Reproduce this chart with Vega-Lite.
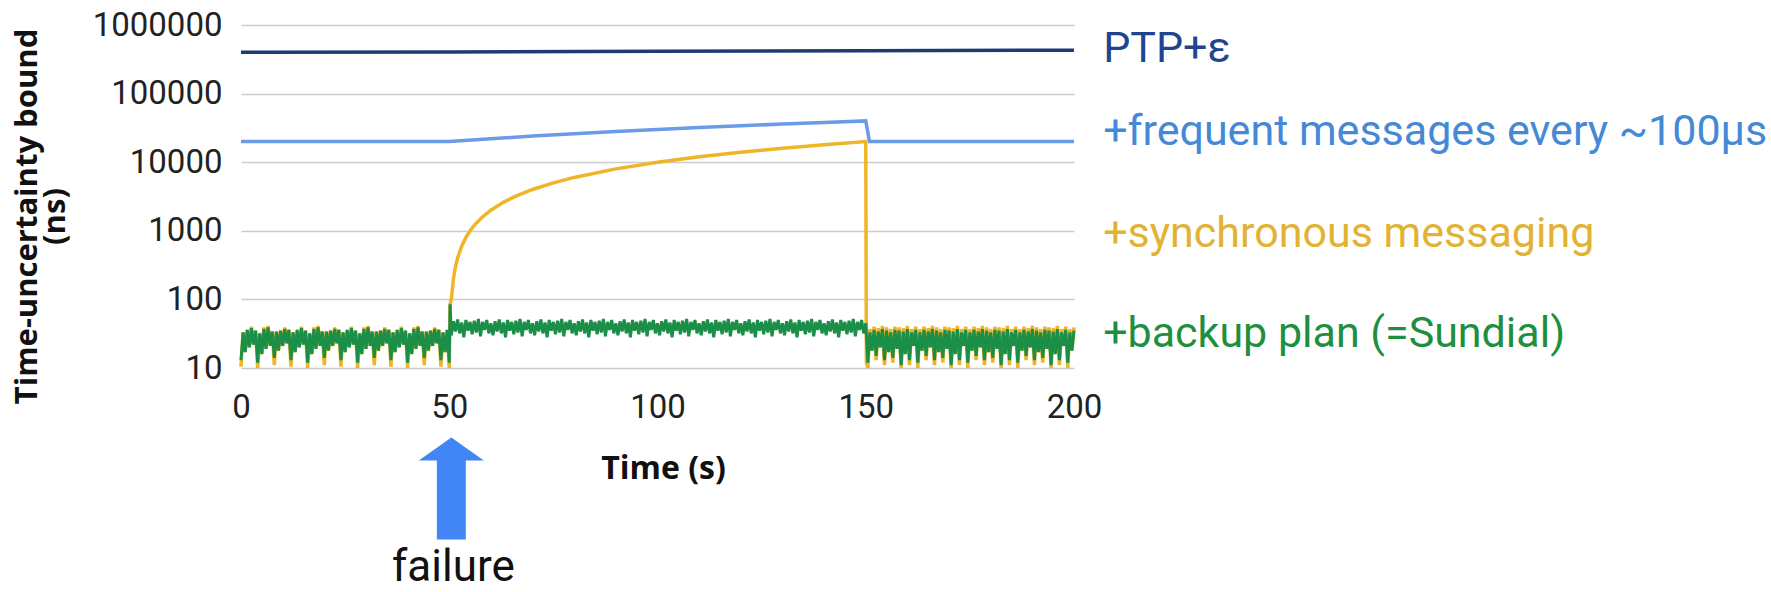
{
"$schema": "https://vega.github.io/schema/vega-lite/v6.json",
"width": 833, "height": 343,
"autosize": {"type": "none"},
"padding": {"left": 241, "top": 25, "right": 697, "bottom": 224},
"background": "white",
"config": {"view": {"stroke": null}},
"datasets": {
"ptp": [{"t":0,"v":400000},{"t":50,"v":405000},{"t":100,"v":415000},{"t":150,"v":422000},{"t":200,"v":430000}],
"freq": [{"t":0,"v":20000},{"t":50,"v":20000},{"t":60,"v":22000},{"t":70,"v":24000},{"t":80,"v":26000},{"t":90,"v":28000},{"t":100,"v":30000},{"t":110,"v":32000},{"t":120,"v":34000},{"t":130,"v":36000},{"t":140,"v":38000},{"t":150,"v":40000},{"t":150.9,"v":20000},{"t":200,"v":20000}],
"sync": [
{"t":0,"v":10.5},{"t":0.5,"v":33},{"t":1,"v":17},{"t":1.5,"v":36},{"t":2,"v":20},{"t":2.5,"v":40},{"t":3,"v":22},{"t":3.5,"v":35},
{"t":4,"v":10},{"t":4.5,"v":32},{"t":5,"v":16},{"t":5.5,"v":39},{"t":6,"v":19},{"t":6.5,"v":41},{"t":7,"v":21},{"t":7.5,"v":34},
{"t":8,"v":11},{"t":8.5,"v":34},{"t":9,"v":18},{"t":9.5,"v":35},{"t":10,"v":21},{"t":10.5,"v":39},{"t":11,"v":23},{"t":11.5,"v":36},
{"t":12,"v":10.5},{"t":12.5,"v":33},{"t":13,"v":17},{"t":13.5,"v":36},{"t":14,"v":20},{"t":14.5,"v":40},{"t":15,"v":22},{"t":15.5,"v":35},
{"t":16,"v":10},{"t":16.5,"v":32},{"t":17,"v":16},{"t":17.5,"v":39},{"t":18,"v":19},{"t":18.5,"v":41},{"t":19,"v":21},{"t":19.5,"v":34},
{"t":20,"v":11},{"t":20.5,"v":34},{"t":21,"v":18},{"t":21.5,"v":35},{"t":22,"v":21},{"t":22.5,"v":39},{"t":23,"v":23},{"t":23.5,"v":36},
{"t":24,"v":10.5},{"t":24.5,"v":33},{"t":25,"v":17},{"t":25.5,"v":36},{"t":26,"v":20},{"t":26.5,"v":40},{"t":27,"v":22},{"t":27.5,"v":35},
{"t":28,"v":10},{"t":28.5,"v":32},{"t":29,"v":16},{"t":29.5,"v":39},{"t":30,"v":19},{"t":30.5,"v":41},{"t":31,"v":21},{"t":31.5,"v":34},
{"t":32,"v":11},{"t":32.5,"v":34},{"t":33,"v":18},{"t":33.5,"v":35},{"t":34,"v":21},{"t":34.5,"v":39},{"t":35,"v":23},{"t":35.5,"v":36},
{"t":36,"v":10.5},{"t":36.5,"v":33},{"t":37,"v":17},{"t":37.5,"v":36},{"t":38,"v":20},{"t":38.5,"v":40},{"t":39,"v":22},{"t":39.5,"v":35},
{"t":40,"v":10},{"t":40.5,"v":32},{"t":41,"v":16},{"t":41.5,"v":39},{"t":42,"v":19},{"t":42.5,"v":41},{"t":43,"v":21},{"t":43.5,"v":34},
{"t":44,"v":11},{"t":44.5,"v":34},{"t":45,"v":18},{"t":45.5,"v":35},{"t":46,"v":21},{"t":46.5,"v":39},{"t":47,"v":23},{"t":47.5,"v":36},
{"t":48,"v":10.5},{"t":48.5,"v":33},{"t":49,"v":17},{"t":49.5,"v":36},{"t":50,"v":10},
{"t":50.2,"v":85},{"t":50.5,"v":100},{"t":51,"v":200},{"t":51.5,"v":300},{"t":52,"v":400},{"t":53,"v":600},{"t":54,"v":800},{"t":55,"v":1000},{"t":56,"v":1200},{"t":58,"v":1600},{"t":60,"v":2000},{"t":63,"v":2600},{"t":66,"v":3200},{"t":70,"v":4000},{"t":75,"v":5000},{"t":80,"v":6000},{"t":90,"v":8000},{"t":100,"v":10000},{"t":110,"v":12000},{"t":120,"v":14000},{"t":130,"v":16000},{"t":140,"v":18000},{"t":150,"v":20000},{"t":150.15,"v":12},
{"t":150.5,"v":10},{"t":151,"v":37},{"t":151.5,"v":18},{"t":152,"v":40},{"t":152.5,"v":13},{"t":153,"v":38},{"t":153.5,"v":20},{"t":154,"v":41},
{"t":154.5,"v":11},{"t":155,"v":39},{"t":155.5,"v":17},{"t":156,"v":37},{"t":156.5,"v":12},{"t":157,"v":40},{"t":157.5,"v":19},{"t":158,"v":39},
{"t":158.5,"v":10},{"t":159,"v":38},{"t":159.5,"v":16},{"t":160,"v":41},{"t":160.5,"v":11},{"t":161,"v":37},{"t":161.5,"v":21},{"t":162,"v":40},
{"t":162.5,"v":10},{"t":163,"v":37},{"t":163.5,"v":18},{"t":164,"v":40},{"t":164.5,"v":13},{"t":165,"v":38},{"t":165.5,"v":20},{"t":166,"v":41},
{"t":166.5,"v":11},{"t":167,"v":39},{"t":167.5,"v":17},{"t":168,"v":37},{"t":168.5,"v":12},{"t":169,"v":40},{"t":169.5,"v":19},{"t":170,"v":39},
{"t":170.5,"v":10},{"t":171,"v":38},{"t":171.5,"v":16},{"t":172,"v":41},{"t":172.5,"v":11},{"t":173,"v":37},{"t":173.5,"v":21},{"t":174,"v":40},
{"t":174.5,"v":10},{"t":175,"v":37},{"t":175.5,"v":18},{"t":176,"v":40},{"t":176.5,"v":13},{"t":177,"v":38},{"t":177.5,"v":20},{"t":178,"v":41},
{"t":178.5,"v":11},{"t":179,"v":39},{"t":179.5,"v":17},{"t":180,"v":37},{"t":180.5,"v":12},{"t":181,"v":40},{"t":181.5,"v":19},{"t":182,"v":39},
{"t":182.5,"v":10},{"t":183,"v":38},{"t":183.5,"v":16},{"t":184,"v":41},{"t":184.5,"v":11},{"t":185,"v":37},{"t":185.5,"v":21},{"t":186,"v":40},
{"t":186.5,"v":10},{"t":187,"v":37},{"t":187.5,"v":18},{"t":188,"v":40},{"t":188.5,"v":13},{"t":189,"v":38},{"t":189.5,"v":20},{"t":190,"v":41},
{"t":190.5,"v":11},{"t":191,"v":39},{"t":191.5,"v":17},{"t":192,"v":37},{"t":192.5,"v":12},{"t":193,"v":40},{"t":193.5,"v":19},{"t":194,"v":39},
{"t":194.5,"v":10},{"t":195,"v":38},{"t":195.5,"v":16},{"t":196,"v":41},{"t":196.5,"v":11},{"t":197,"v":37},{"t":197.5,"v":21},{"t":198,"v":40},
{"t":198.5,"v":10},{"t":199,"v":37},{"t":199.5,"v":18},{"t":200,"v":39}],
"backup": [
{"t":0,"v":13},{"t":0.5,"v":33},{"t":1,"v":17},{"t":1.5,"v":36},{"t":2,"v":20},{"t":2.5,"v":38},{"t":3,"v":22},{"t":3.5,"v":35},
{"t":4,"v":12},{"t":4.5,"v":32},{"t":5,"v":16},{"t":5.5,"v":37},{"t":6,"v":19},{"t":6.5,"v":39},{"t":7,"v":21},{"t":7.5,"v":34},
{"t":8,"v":14},{"t":8.5,"v":34},{"t":9,"v":18},{"t":9.5,"v":35},{"t":10,"v":21},{"t":10.5,"v":37},{"t":11,"v":23},{"t":11.5,"v":36},
{"t":12,"v":13},{"t":12.5,"v":33},{"t":13,"v":17},{"t":13.5,"v":36},{"t":14,"v":20},{"t":14.5,"v":38},{"t":15,"v":22},{"t":15.5,"v":35},
{"t":16,"v":12},{"t":16.5,"v":32},{"t":17,"v":16},{"t":17.5,"v":37},{"t":18,"v":19},{"t":18.5,"v":39},{"t":19,"v":21},{"t":19.5,"v":34},
{"t":20,"v":14},{"t":20.5,"v":34},{"t":21,"v":18},{"t":21.5,"v":35},{"t":22,"v":21},{"t":22.5,"v":37},{"t":23,"v":23},{"t":23.5,"v":36},
{"t":24,"v":13},{"t":24.5,"v":33},{"t":25,"v":17},{"t":25.5,"v":36},{"t":26,"v":20},{"t":26.5,"v":38},{"t":27,"v":22},{"t":27.5,"v":35},
{"t":28,"v":12},{"t":28.5,"v":32},{"t":29,"v":16},{"t":29.5,"v":37},{"t":30,"v":19},{"t":30.5,"v":39},{"t":31,"v":21},{"t":31.5,"v":34},
{"t":32,"v":14},{"t":32.5,"v":34},{"t":33,"v":18},{"t":33.5,"v":35},{"t":34,"v":21},{"t":34.5,"v":37},{"t":35,"v":23},{"t":35.5,"v":36},
{"t":36,"v":13},{"t":36.5,"v":33},{"t":37,"v":17},{"t":37.5,"v":36},{"t":38,"v":20},{"t":38.5,"v":38},{"t":39,"v":22},{"t":39.5,"v":35},
{"t":40,"v":12},{"t":40.5,"v":32},{"t":41,"v":16},{"t":41.5,"v":37},{"t":42,"v":19},{"t":42.5,"v":39},{"t":43,"v":21},{"t":43.5,"v":34},
{"t":44,"v":14},{"t":44.5,"v":34},{"t":45,"v":18},{"t":45.5,"v":35},{"t":46,"v":21},{"t":46.5,"v":37},{"t":47,"v":23},{"t":47.5,"v":36},
{"t":48,"v":13},{"t":48.5,"v":33},{"t":49,"v":17},{"t":49.5,"v":36},{"t":50,"v":12},
{"t":50.2,"v":85},
{"t":50.5,"v":30},{"t":51,"v":48},{"t":51.5,"v":34},{"t":52,"v":51},{"t":52.5,"v":32},{"t":53,"v":46},{"t":53.5,"v":28},{"t":54,"v":50},{"t":54.5,"v":35},{"t":55,"v":47},
{"t":55.5,"v":31},{"t":56,"v":49},{"t":56.5,"v":33},{"t":57,"v":52},{"t":57.5,"v":29},{"t":58,"v":47},{"t":58.5,"v":36},{"t":59,"v":50},{"t":59.5,"v":32},{"t":60,"v":45},
{"t":60.5,"v":30},{"t":61,"v":48},{"t":61.5,"v":34},{"t":62,"v":51},{"t":62.5,"v":32},{"t":63,"v":46},{"t":63.5,"v":28},{"t":64,"v":50},{"t":64.5,"v":35},{"t":65,"v":47},
{"t":65.5,"v":31},{"t":66,"v":49},{"t":66.5,"v":33},{"t":67,"v":52},{"t":67.5,"v":29},{"t":68,"v":47},{"t":68.5,"v":36},{"t":69,"v":50},{"t":69.5,"v":32},{"t":70,"v":45},
{"t":70.5,"v":30},{"t":71,"v":48},{"t":71.5,"v":34},{"t":72,"v":51},{"t":72.5,"v":32},{"t":73,"v":46},{"t":73.5,"v":28},{"t":74,"v":50},{"t":74.5,"v":35},{"t":75,"v":47},
{"t":75.5,"v":31},{"t":76,"v":49},{"t":76.5,"v":33},{"t":77,"v":52},{"t":77.5,"v":29},{"t":78,"v":47},{"t":78.5,"v":36},{"t":79,"v":50},{"t":79.5,"v":32},{"t":80,"v":45},
{"t":80.5,"v":30},{"t":81,"v":48},{"t":81.5,"v":34},{"t":82,"v":51},{"t":82.5,"v":32},{"t":83,"v":46},{"t":83.5,"v":28},{"t":84,"v":50},{"t":84.5,"v":35},{"t":85,"v":47},
{"t":85.5,"v":31},{"t":86,"v":49},{"t":86.5,"v":33},{"t":87,"v":52},{"t":87.5,"v":29},{"t":88,"v":47},{"t":88.5,"v":36},{"t":89,"v":50},{"t":89.5,"v":32},{"t":90,"v":45},
{"t":90.5,"v":30},{"t":91,"v":48},{"t":91.5,"v":34},{"t":92,"v":51},{"t":92.5,"v":32},{"t":93,"v":46},{"t":93.5,"v":28},{"t":94,"v":50},{"t":94.5,"v":35},{"t":95,"v":47},
{"t":95.5,"v":31},{"t":96,"v":49},{"t":96.5,"v":33},{"t":97,"v":52},{"t":97.5,"v":29},{"t":98,"v":47},{"t":98.5,"v":36},{"t":99,"v":50},{"t":99.5,"v":32},{"t":100,"v":45},
{"t":100.5,"v":30},{"t":101,"v":48},{"t":101.5,"v":34},{"t":102,"v":51},{"t":102.5,"v":32},{"t":103,"v":46},{"t":103.5,"v":28},{"t":104,"v":50},{"t":104.5,"v":35},{"t":105,"v":47},
{"t":105.5,"v":31},{"t":106,"v":49},{"t":106.5,"v":33},{"t":107,"v":52},{"t":107.5,"v":29},{"t":108,"v":47},{"t":108.5,"v":36},{"t":109,"v":50},{"t":109.5,"v":32},{"t":110,"v":45},
{"t":110.5,"v":30},{"t":111,"v":48},{"t":111.5,"v":34},{"t":112,"v":51},{"t":112.5,"v":32},{"t":113,"v":46},{"t":113.5,"v":28},{"t":114,"v":50},{"t":114.5,"v":35},{"t":115,"v":47},
{"t":115.5,"v":31},{"t":116,"v":49},{"t":116.5,"v":33},{"t":117,"v":52},{"t":117.5,"v":29},{"t":118,"v":47},{"t":118.5,"v":36},{"t":119,"v":50},{"t":119.5,"v":32},{"t":120,"v":45},
{"t":120.5,"v":30},{"t":121,"v":48},{"t":121.5,"v":34},{"t":122,"v":51},{"t":122.5,"v":32},{"t":123,"v":46},{"t":123.5,"v":28},{"t":124,"v":50},{"t":124.5,"v":35},{"t":125,"v":47},
{"t":125.5,"v":31},{"t":126,"v":49},{"t":126.5,"v":33},{"t":127,"v":52},{"t":127.5,"v":29},{"t":128,"v":47},{"t":128.5,"v":36},{"t":129,"v":50},{"t":129.5,"v":32},{"t":130,"v":45},
{"t":130.5,"v":30},{"t":131,"v":48},{"t":131.5,"v":34},{"t":132,"v":51},{"t":132.5,"v":32},{"t":133,"v":46},{"t":133.5,"v":28},{"t":134,"v":50},{"t":134.5,"v":35},{"t":135,"v":47},
{"t":135.5,"v":31},{"t":136,"v":49},{"t":136.5,"v":33},{"t":137,"v":52},{"t":137.5,"v":29},{"t":138,"v":47},{"t":138.5,"v":36},{"t":139,"v":50},{"t":139.5,"v":32},{"t":140,"v":45},
{"t":140.5,"v":30},{"t":141,"v":48},{"t":141.5,"v":34},{"t":142,"v":51},{"t":142.5,"v":32},{"t":143,"v":46},{"t":143.5,"v":28},{"t":144,"v":50},{"t":144.5,"v":35},{"t":145,"v":47},
{"t":145.5,"v":31},{"t":146,"v":49},{"t":146.5,"v":33},{"t":147,"v":52},{"t":147.5,"v":29},{"t":148,"v":47},{"t":148.5,"v":36},{"t":149,"v":50},{"t":149.5,"v":32},{"t":150,"v":45},
{"t":150.5,"v":12},{"t":151,"v":33},{"t":151.5,"v":18},{"t":152,"v":36},{"t":152.5,"v":15},{"t":153,"v":34},{"t":153.5,"v":20},{"t":154,"v":37},
{"t":154.5,"v":13},{"t":155,"v":35},{"t":155.5,"v":17},{"t":156,"v":33},{"t":156.5,"v":14},{"t":157,"v":36},{"t":157.5,"v":19},{"t":158,"v":35},
{"t":158.5,"v":11},{"t":159,"v":34},{"t":159.5,"v":16},{"t":160,"v":37},{"t":160.5,"v":13},{"t":161,"v":33},{"t":161.5,"v":21},{"t":162,"v":36},
{"t":162.5,"v":12},{"t":163,"v":33},{"t":163.5,"v":18},{"t":164,"v":36},{"t":164.5,"v":15},{"t":165,"v":34},{"t":165.5,"v":20},{"t":166,"v":37},
{"t":166.5,"v":13},{"t":167,"v":35},{"t":167.5,"v":17},{"t":168,"v":33},{"t":168.5,"v":14},{"t":169,"v":36},{"t":169.5,"v":19},{"t":170,"v":35},
{"t":170.5,"v":11},{"t":171,"v":34},{"t":171.5,"v":16},{"t":172,"v":37},{"t":172.5,"v":13},{"t":173,"v":33},{"t":173.5,"v":21},{"t":174,"v":36},
{"t":174.5,"v":12},{"t":175,"v":33},{"t":175.5,"v":18},{"t":176,"v":36},{"t":176.5,"v":15},{"t":177,"v":34},{"t":177.5,"v":20},{"t":178,"v":37},
{"t":178.5,"v":13},{"t":179,"v":35},{"t":179.5,"v":17},{"t":180,"v":33},{"t":180.5,"v":14},{"t":181,"v":36},{"t":181.5,"v":19},{"t":182,"v":35},
{"t":182.5,"v":11},{"t":183,"v":34},{"t":183.5,"v":16},{"t":184,"v":37},{"t":184.5,"v":13},{"t":185,"v":33},{"t":185.5,"v":21},{"t":186,"v":36},
{"t":186.5,"v":12},{"t":187,"v":33},{"t":187.5,"v":18},{"t":188,"v":36},{"t":188.5,"v":15},{"t":189,"v":34},{"t":189.5,"v":20},{"t":190,"v":37},
{"t":190.5,"v":13},{"t":191,"v":35},{"t":191.5,"v":17},{"t":192,"v":33},{"t":192.5,"v":14},{"t":193,"v":36},{"t":193.5,"v":19},{"t":194,"v":35},
{"t":194.5,"v":11},{"t":195,"v":34},{"t":195.5,"v":16},{"t":196,"v":37},{"t":196.5,"v":13},{"t":197,"v":33},{"t":197.5,"v":21},{"t":198,"v":36},
{"t":198.5,"v":12},{"t":199,"v":33},{"t":199.5,"v":18},{"t":200,"v":35}],
"labels": [{"label":"PTP+ε","t":207,"v":450000,"series":"ptp"},{"label":"+frequent messages every ~100µs","t":207,"v":27500,"series":"freq"},{"label":"+synchronous messaging","t":207,"v":900,"series":"sync"},{"label":"+backup plan (=Sundial)","t":207,"v":31.6,"series":"backup"}],
"arrow": [{"t":50.5,"v":0.175}],
"note": [{"t":51,"v":0.012,"label":"failure"}]
},
"encoding": {
"x": {"field": "t", "type": "quantitative",
  "scale": {"domain": [0, 200], "nice": false, "zero": false},
  "axis": {"values": [0, 50, 100, 150, 200], "grid": false, "domain": false, "ticks": false, "tickSize": 0,
    "labelFont": "Roboto", "labelFontSize": 33, "labelColor": "#222222", "labelPadding": 23, "labelFlush": false, "labelOverlap": false, "labelBound": false,
    "title": "Time (s)", "titleFont": "Open Sans", "titleFontSize": 32, "titleFontWeight": "bold", "titleColor": "#111111",
    "titleX": 422, "titleY": 100, "titleBaseline": "middle", "titleAlign": "center", "titleAnchor": null}},
"y": {"field": "v", "type": "quantitative",
  "scale": {"type": "log", "domain": [10, 1000000], "nice": false},
  "axis": {"values": [10, 100, 1000, 10000, 100000, 1000000], "format": "d", "grid": true, "gridColor": "#cccccc", "gridWidth": 1.5,
    "domain": false, "ticks": false, "tickSize": 0,
    "labelFont": "Roboto", "labelFontSize": 33, "labelColor": "#222222", "labelPadding": 19, "labelOverlap": false, "labelBound": false, "labelFlush": false,
    "title": ["Time-uncertainty bound", "(ns)"], "titleFont": "Open Sans", "titleFontSize": 31, "titleFontWeight": "bold", "titleColor": "#111111",
    "titleLineHeight": 28, "titleX": -214, "titleY": 191, "titleAngle": -90, "titleBaseline": "middle", "titleAlign": "center", "titleAnchor": null}}
},
"layer": [
{"data": {"name": "ptp"}, "mark": {"type": "line", "color": "#1f3b73", "strokeWidth": 3.5}},
{"data": {"name": "freq"}, "mark": {"type": "line", "color": "#6a9be6", "strokeWidth": 3.5}},
{"data": {"name": "sync"}, "mark": {"type": "line", "color": "#f0b429", "strokeWidth": 3.5}},
{"data": {"name": "backup"}, "mark": {"type": "line", "color": "#1b8f48", "strokeWidth": 3}},
{"data": {"name": "arrow"}, "mark": {"type": "point", "filled": true, "opacity": 1, "color": "#4285f4", "size": 10404,
  "shape": "M0,-1L0.637,-0.549L0.284,-0.549L0.284,1L-0.284,1L-0.284,-0.549L-0.637,-0.549Z"}},
{"data": {"name": "note"}, "mark": {"type": "text", "font": "Roboto", "fontSize": 44, "color": "#111111", "align": "center", "baseline": "middle"},
  "encoding": {"text": {"field": "label"}}},
{"data": {"name": "labels"}, "mark": {"type": "text", "font": "Roboto", "fontSize": 43, "align": "left", "baseline": "middle"},
  "encoding": {"text": {"field": "label"},
    "color": {"field": "series", "type": "nominal", "legend": null,
      "scale": {"domain": ["ptp", "freq", "sync", "backup"], "range": ["#1f4590", "#4589d6", "#e2b232", "#1e8f3f"]}}}}
]
}
